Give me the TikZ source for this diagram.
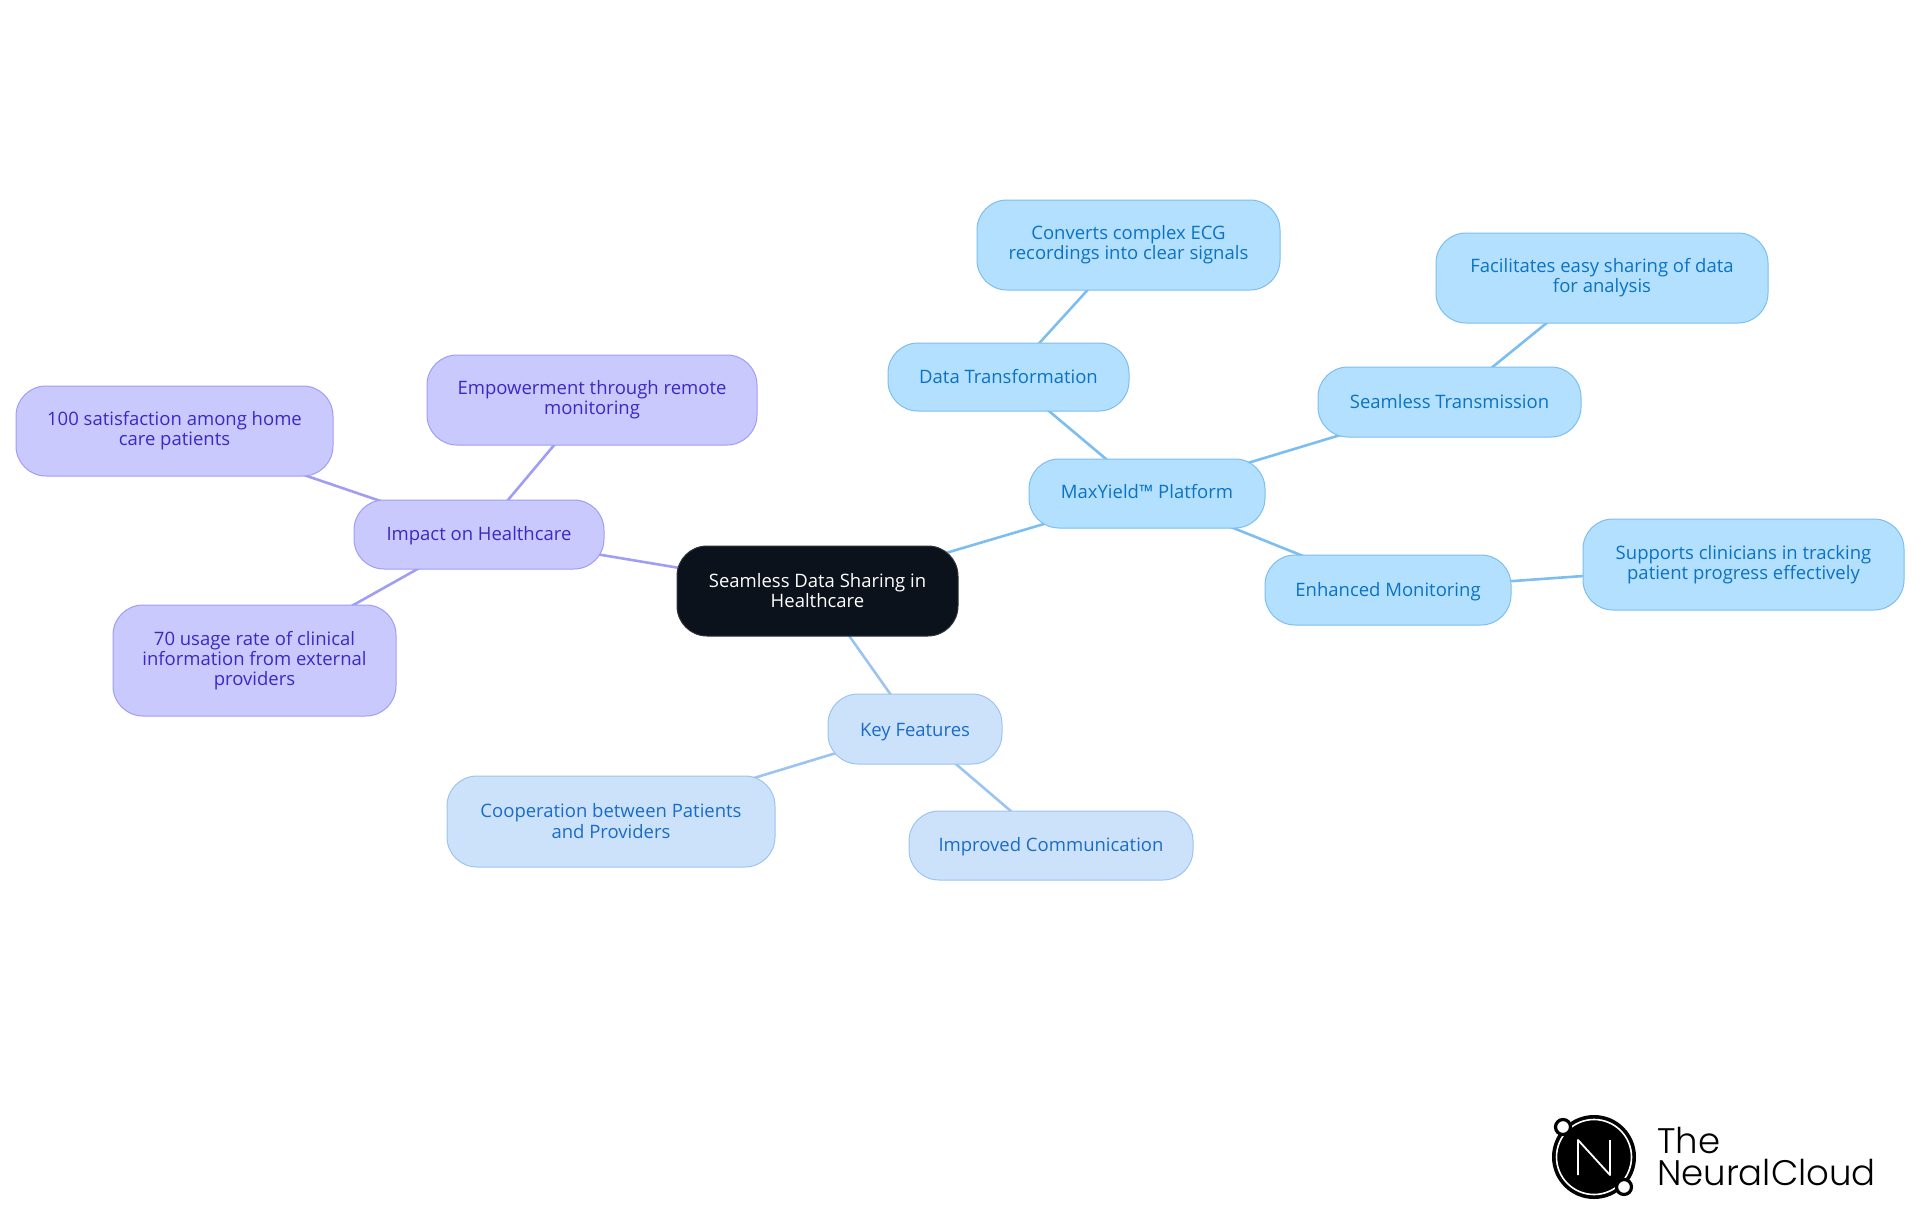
\documentclass[tikz,border=0pt]{standalone}
\usepackage{fontspec}
\setmainfont{Open Sans}
\newfontfamily\logofont[UprightFont=* Light]{Poppins}
\usetikzlibrary{backgrounds}
\definecolor{rootfill}{HTML}{0B121B}
\definecolor{bluefill}{HTML}{B3E0FF}
\definecolor{blueline}{HTML}{7CBEF0}
\definecolor{bluetext}{HTML}{0B72C4}
\definecolor{keyfill}{HTML}{CCE2FB}
\definecolor{keyline}{HTML}{9CC4F0}
\definecolor{keytext}{HTML}{1A6CC8}
\definecolor{purfill}{HTML}{C9C9FD}
\definecolor{purline}{HTML}{A09DF5}
\definecolor{purtext}{HTML}{3B29C4}
\tikzset{
  x=1pt,y=-1pt,
  mm/.style={draw,line width=1pt,rounded corners=30pt,inner sep=0pt,align=center,
    font=\fontsize{18.5}{20.2}\selectfont},
  rootbox/.style={mm,fill=rootfill,draw=rootfill!70!gray,text=white},
  bluebox/.style={mm,fill=bluefill,draw=blueline,text=bluetext},
  keybox/.style={mm,fill=keyfill,draw=keyline,text=keytext},
  purbox/.style={mm,fill=purfill,draw=purline,text=purtext},
  edgeblue/.style={draw=blueline,line width=2.6pt},
  edgekey/.style={draw=keyline,line width=2.6pt},
  edgepur/.style={draw=purline,line width=2.6pt},
  logotext/.style={anchor=base west,inner sep=0pt,text=black,font=\logofont\fontsize{35.5}{35}\selectfont},
}
\newcommand{\bx}[7]{%
  \pgfmathsetmacro{\bxw}{#3-#2}\pgfmathsetmacro{\bxh}{#5-#4}%
  \pgfmathsetmacro{\bxx}{(#2+#3)/2}\pgfmathsetmacro{\bxy}{(#4+#5)/2}%
  \node[#6,minimum width=\bxw pt,minimum height=\bxh pt] (#1) at (\bxx,\bxy) {#7};%
}
\begin{document}
\begin{tikzpicture}
\useasboundingbox (0,0) rectangle (1920,1215);
\bx{root}{677}{958}{546}{636}{rootbox}{\raisebox{1pt}{Seamless Data Sharing in}\\\raisebox{1pt}{Healthcare}}
\bx{max}{1029}{1265}{459}{528}{bluebox}{\raisebox{3.6pt}{MaxYield™ Platform}}
\bx{data}{888}{1129}{343}{411}{bluebox}{Data Transformation}
\bx{conv}{977}{1280}{200}{290}{bluebox}{\raisebox{-1pt}{Converts complex ECG}\\\raisebox{-1pt}{recordings into clear signals}}
\bx{seam}{1318}{1581}{367}{437}{bluebox}{Seamless Transmission}
\bx{fac}{1436}{1768}{233}{323}{bluebox}{Facilitates easy sharing of data\\for analysis}
\bx{enh}{1265}{1511}{555}{625}{bluebox}{\rule{0pt}{16.5pt}Enhanced Monitoring}
\bx{sup}{1583}{1904}{519}{610}{bluebox}{Supports clinicians in tracking\\patient progress effectively}
\bx{key}{828}{1002}{694}{764}{keybox}{\rule{0pt}{19.5pt}Key Features}
\bx{coop}{447}{775}{776}{867}{keybox}{\raisebox{1pt}{Cooperation between Patients}\\\raisebox{1pt}{and Providers}}
\bx{comm}{909}{1193}{811}{880}{keybox}{\rule{0pt}{16.5pt}Improved Communication}
\bx{impact}{354}{604}{500}{569}{purbox}{\rule{0pt}{16.5pt}Impact on Healthcare}
\bx{emp}{427}{757}{355}{445}{purbox}{\raisebox{-0.5pt}{Empowerment through remote}\\\raisebox{-0.5pt}{monitoring}}
\bx{sat}{16}{333}{386}{476}{purbox}{\raisebox{-0.5pt}{100 satisfaction among home}\\\raisebox{-0.5pt}{care patients}}
\bx{usage}{113}{396}{605}{716}{purbox}{70 usage rate of clinical\\information from external\\providers}
\begin{scope}[on background layer]
\draw[edgeblue] (root.center) -- (max.center);
\draw[edgeblue] (max.center) -- (data.center);
\draw[edgeblue] (data.center) -- (conv.center);
\draw[edgeblue] (max.center) -- (seam.center);
\draw[edgeblue] (seam.center) -- (fac.center);
\draw[edgeblue] (max.center) -- (enh.center);
\draw[edgeblue] (enh.center) -- (sup.center);
\draw[edgekey] (root.center) -- (key.center);
\draw[edgekey] (key.center) -- (coop.center);
\draw[edgekey] (key.center) -- (comm.center);
\draw[edgepur] (root.center) -- (impact.center);
\draw[edgepur] (impact.center) -- (emp.center);
\draw[edgepur] (impact.center) -- (sat.center);
\draw[edgepur] (impact.center) -- (usage.center);
\end{scope}
% logo
\fill[black] (1594,1157) circle (42);
\draw[white,line width=1.6pt] (1594,1157) circle (37.5);
\draw[white,line width=1.8pt,line join=round] (1578,1175) -- (1578,1140) -- (1610,1175) -- (1610,1140);
\draw[black,fill=white,line width=3.2pt] (1563,1127) circle (7.5);
\draw[black,fill=white,line width=3.2pt] (1624,1187) circle (7.5);
\node[logotext] (logoa) at (1657,1153) {The};
\node[logotext] (logob) at (1657,1185) {NeuralCloud};
\end{tikzpicture}
\end{document}
